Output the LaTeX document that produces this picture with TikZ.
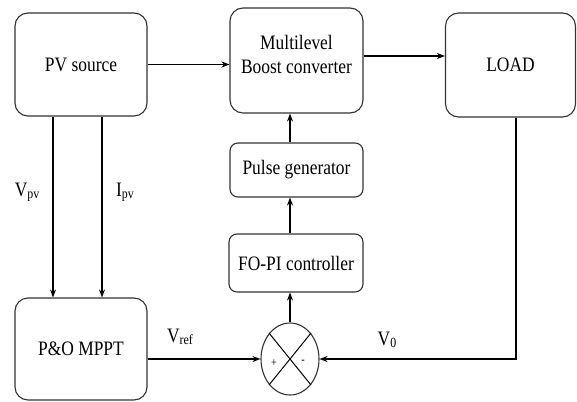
\documentclass[tikz,border=0pt]{standalone}
\usepackage{fontspec}
\setmainfont{LiberationSerif}[Extension=.ttf, UprightFont=*-Regular, FakeStretch=0.85]
\usepackage{tikz}
\usetikzlibrary{positioning, arrows.meta, shapes.geometric}

\newcommand{\sig}[2]{#1\raisebox{-0.25ex}{\fontsize{14}{14}\selectfont #2}}

\tikzset{
    blk/.style={draw=black!80, line width=1.1pt, rounded corners=13pt, align=center,
        font=\fontsize{20.5}{24}\selectfont},
    smallblk/.style={blk, rounded corners=8pt},
    flow/.style={line width=1.1pt, -{Stealth[length=8pt, width=6pt]}},
    lbl/.style={font=\fontsize{20.5}{24}\selectfont, inner sep=0pt}
}

\begin{document}
\begin{tikzpicture}[x=1pt, y=-1pt]
    \useasboundingbox (0,0) rectangle (577,401);

    \node[blk, minimum width=132pt, minimum height=103pt] (pv) at (81,64.5) {PV source};
    \node[blk, minimum width=133pt, minimum height=105pt] (mlb) at (296.5,60.5) {Multilevel\\Boost converter\\[-11pt]};
    \node[blk, minimum width=130pt, minimum height=104pt] (load) at (510.5,65) {LOAD};
    \node[smallblk, minimum width=133pt, minimum height=54pt] (pulse) at (296.5,170) {Pulse generator};
    \node[smallblk, minimum width=134pt, minimum height=58pt] (fopi) at (296,263) {FO-PI controller};
    \node[blk, minimum width=132pt, minimum height=102pt] (mppt) at (81,349) {P\&O MPPT};
    \node[draw=black!80, line width=1.1pt, ellipse, minimum width=58pt, minimum height=72pt, inner sep=0pt] (sum) at (290,359) {};
    \draw[line width=1pt] (sum.north west) -- (sum.south east);
    \draw[line width=1pt] (sum.north east) -- (sum.south west);
    \node[font=\fontsize{12}{12}\selectfont] (plus) at (274,363) {+};
    \node[font=\fontsize{12}{12}\selectfont] (minus) at (303,362) {-};

    % signal labels
    \node[lbl] (vpv) at (27,192) {\sig{V}{pv}};
    \node[lbl] (ipv) at (125,192) {\sig{I}{pv}};
    \node[lbl] (vref) at (180,337) {\sig{V}{ref}};
    \node[lbl] (vo) at (387,340) {\sig{V}{0}};

    % power path
    \draw[flow] (pv.east) -- (pv.east -| mlb.west);
    \draw[flow] ([yshift=4.5pt]mlb.east) -- ([yshift=4.5pt]mlb.east -| load.west);

    % measurements
    \draw[flow] ([xshift=-28pt]pv.south) -- ([xshift=-28pt]mppt.north);
    \draw[flow] ([xshift=21pt]pv.south) -- ([xshift=21pt]mppt.north);

    % control loop
    \draw[flow] (sum -| mppt.east) -- (sum.west);
    \draw[flow] ([xshift=5.5pt]load.south) |- (sum.east);
    \draw[flow] (sum.north) -- (sum.north |- fopi.south);
    \draw[flow] (sum.north |- fopi.north) -- (sum.north |- pulse.south);
    \draw[flow] (sum.north |- pulse.north) -- (sum.north |- mlb.south);
\end{tikzpicture}
\end{document}
